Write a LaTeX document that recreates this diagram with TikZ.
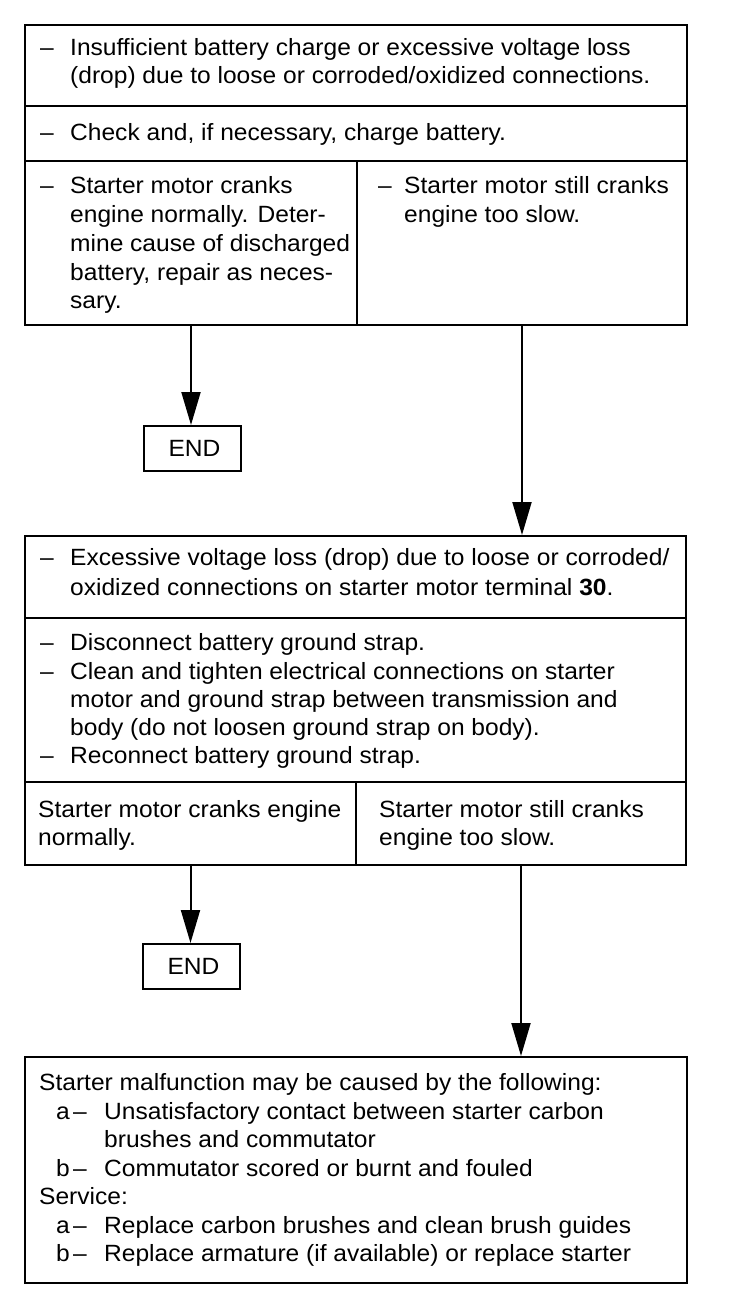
\documentclass[tikz,border=0pt]{standalone}
\usepackage{fontspec}
\setmainfont{Liberation Sans}[FakeStretch=1.045]
\usetikzlibrary{arrows.meta}
\newcommand\mytxtfont{\fontsize{23.5}{28}\selectfont}
\begin{document}
\begin{tikzpicture}[x=1pt,y=-1pt,
  sect/.style={draw, line width=2pt, inner sep=0pt, anchor=north west},
  txt/.style={anchor=base west, inner sep=0pt, font=\mytxtfont},
  ctr/.style={anchor=center, inner sep=0pt, font=\mytxtfont},
  arr/.style={line width=2pt, -{Triangle[length=33pt,width=19pt]}}]
\fill[white] (0,0) rectangle (736,1304);
\useasboundingbox (0,0) rectangle (736,1304);
% ---------- Box 1 ----------
\node[sect, minimum width=662pt, minimum height=81pt] (b1a) at (24,24) {};
\node[sect, minimum width=662pt, minimum height=55pt] (b1b) at (24,105) {};
\node[sect, minimum width=332pt, minimum height=164pt] (b1l) at (24,160) {};
\node[sect, minimum width=330pt, minimum height=164pt] (b1r) at (356,160) {};
\node[txt] (d1) at (40,55) {–};
\node[txt] (t1) at (70,55) {Insufficient battery charge or excessive voltage loss};
\node[txt] (t2) at (70,83) {(drop) due to loose or corroded/oxidized connections.};
\node[txt] (d2) at (40,140) {–};
\node[txt] (t3) at (70,140) {Check and, if necessary, charge battery.};
\node[txt] (d3) at (40,193) {–};
\node[txt] (t4) at (70,193) {Starter motor cranks};
\node[txt] (t5) at (70,222) {engine normally. Deter-};
\node[txt] (t6) at (70,251) {mine cause of discharged};
\node[txt] (t7) at (70,280) {battery, repair as neces-};
\node[txt] (t8) at (70,308) {sary.};
\node[txt] (d4) at (378,193) {–};
\node[txt] (t9) at (404,193) {Starter motor still cranks};
\node[txt] (t10) at (404,222) {engine too slow.};
% ---------- END 1 ----------
\node[sect, minimum width=97pt, minimum height=45pt] (e1) at (143,425) {};
\node[ctr] (e1t) at ([xshift=2pt]e1.center) {END};
% ---------- Box 2 ----------
\node[sect, minimum width=661pt, minimum height=82pt] (b2a) at (24,535) {};
\node[sect, minimum width=661pt, minimum height=164pt] (b2b) at (24,617) {};
\node[sect, minimum width=331pt, minimum height=83pt] (b2l) at (24,781) {};
\node[sect, minimum width=330pt, minimum height=83pt] (b2r) at (355,781) {};
\node[txt] (d5) at (40,565) {–};
\node[txt] (t11) at (70,565) {Excessive voltage loss (drop) due to loose or corroded/};
\node[txt] (t12) at (70,595) {oxidized connections on starter motor terminal \textbf{30}.};
\node[txt] (d6) at (40,650) {–};
\node[txt] (t13) at (70,650) {Disconnect battery ground strap.};
\node[txt] (d7) at (40,679) {–};
\node[txt] (t14) at (70,679) {Clean and tighten electrical connections on starter};
\node[txt] (t15) at (70,707) {motor and ground strap between transmission and};
\node[txt] (t16) at (70,735) {body (do not loosen ground strap on body).};
\node[txt] (d8) at (40,763) {–};
\node[txt] (t17) at (70,763) {Reconnect battery ground strap.};
\node[txt] (t18) at (38,817) {Starter motor cranks engine};
\node[txt] (t19) at (38,845) {normally.};
\node[txt] (t20) at (379,817) {Starter motor still cranks};
\node[txt] (t21) at (379,845) {engine too slow.};
% ---------- END 2 ----------
\node[sect, minimum width=97pt, minimum height=45pt] (e2) at (142,943) {};
\node[ctr] (e2t) at ([xshift=2pt]e2.center) {END};
% ---------- Box 3 ----------
\node[sect, minimum width=662pt, minimum height=226pt] (b3) at (24,1056) {};
\node[txt] (t22) at (39,1090) {Starter malfunction may be caused by the following:};
\node[txt] (l1) at (56,1119) {a};
\node[txt] (d9) at (73,1119) {–};
\node[txt] (t23) at (104,1119) {Unsatisfactory contact between starter carbon};
\node[txt] (t24) at (104,1147) {brushes and commutator};
\node[txt] (l2) at (56,1176) {b};
\node[txt] (d10) at (73,1176) {–};
\node[txt] (t25) at (104,1176) {Commutator scored or burnt and fouled};
\node[txt] (t26) at (39,1204) {Service:};
\node[txt] (l3) at (56,1233) {a};
\node[txt] (d11) at (73,1233) {–};
\node[txt] (t27) at (104,1233) {Replace carbon brushes and clean brush guides};
\node[txt] (l4) at (56,1261) {b};
\node[txt] (d12) at (73,1261) {–};
\node[txt] (t28) at (104,1261) {Replace armature (if available) or replace starter};
% ---------- Arrows ----------
\draw[arr] (b1l.south) -- (b1l.south |- e1.north);
\draw[arr] (b1r.south) -- (b1r.south |- b2a.north);
\draw[arr] (b2l.south) -- (b2l.south |- e2.north);
\draw[arr] (b2r.south) -- (b2r.south |- b3.north);
\end{tikzpicture}
\end{document}
